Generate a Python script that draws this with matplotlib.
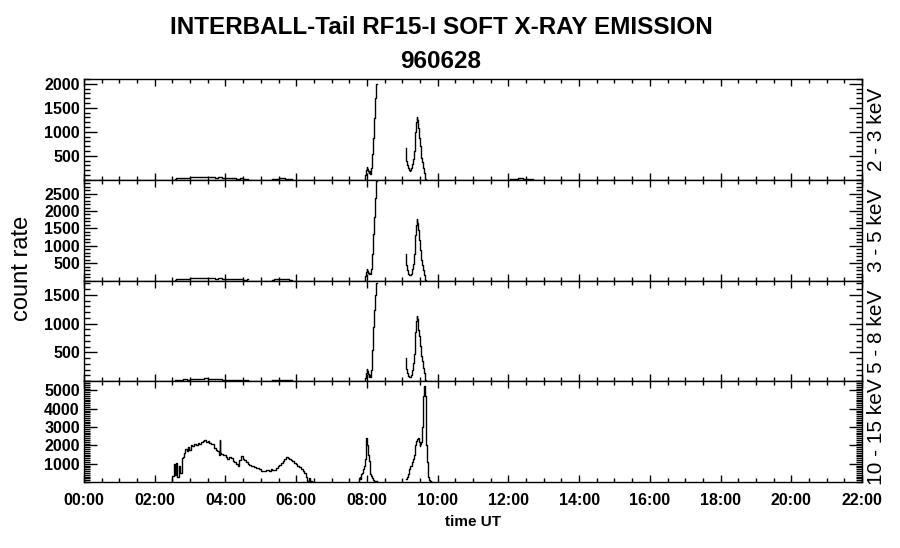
import numpy as np
import matplotlib.pyplot as plt
from matplotlib.ticker import MultipleLocator, FixedLocator, FuncFormatter

plt.rcParams['font.family'] = ['Liberation Sans', 'DejaVu Sans']

# energy bands and axis ranges
bands = ['2 - 3 keV', '3 - 5 keV', '5 - 8 keV', '10 - 15 keV']
ymax = [2100, 2900, 1750, 5500]
yticks = [[500, 1000, 1500, 2000],
          [500, 1000, 1500, 2000, 2500],
          [500, 1000, 1500],
          [1000, 2000, 3000, 4000, 5000]]
xticks = list(range(0, 23, 2))

# low background, bands 1-3 (hours UT)
t_bg_a = [2.57, 2.65, 2.75, 2.85, 2.95, 3.05, 3.15, 3.25, 3.35, 3.45, 3.55,
          3.65, 3.75, 3.85, 3.95, 4.05, 4.15, 4.25, 4.35, 4.45, 4.55, 4.65]
bg_a_1 = [20, 30, 35, 45, 40, 55, 50, 60, 55, 65, 50, 60, 45, 55, 40, 35, 30, 35, 25, 30, 20, 25]
bg_a_2 = [25, 35, 45, 55, 50, 65, 60, 70, 65, 75, 60, 70, 55, 60, 45, 40, 35, 40, 30, 35, 25, 30]
bg_a_3 = [15, 20, 25, 35, 30, 40, 35, 45, 40, 50, 38, 45, 35, 40, 30, 28, 22, 25, 20, 22, 15, 18]
t_bg_b = [5.31, 5.45, 5.6, 5.75, 5.87]
bg_b_1 = [20, 25, 30, 25, 20]
bg_b_2 = [25, 30, 35, 30, 25]
bg_b_3 = [15, 20, 25, 20, 15]
t_bg_c = [12.05, 12.2, 12.35, 12.5, 12.7]
bg_c_1 = [15, 25, 30, 25, 20]

# first peak, bands 1-3
t_p1 = [7.947, 7.96, 7.975, 7.99, 8.005, 8.022, 8.04, 8.06, 8.08, 8.098,
        8.115, 8.135, 8.15, 8.164, 8.182, 8.20, 8.211, 8.23, 8.248, 8.265, 8.277]
p1_1 = [0, 100, 150, 200, 270, 220, 180, 140, 180, 130,
        150, 250, 400, 530, 875, 1100, 1290, 1500, 1710, 1900, 2000]
p1_2 = [0, 120, 200, 250, 330, 280, 230, 190, 230, 180,
        200, 320, 550, 770, 1350, 1600, 1836, 2100, 2370, 2600, 2850]
p1_3 = [0, 60, 100, 150, 210, 170, 120, 70, 100, 80,
        100, 200, 350, 550, 950, 1100, 1240, 1380, 1500, 1600, 1700]

# second peak, bands 1-3
t_p2 = [9.097, 9.11, 9.125, 9.15, 9.172, 9.195, 9.219, 9.24, 9.266, 9.29,
        9.314, 9.34, 9.361, 9.375, 9.389, 9.403, 9.417, 9.427, 9.436, 9.445,
        9.455, 9.47, 9.483, 9.50, 9.512, 9.53, 9.549, 9.57, 9.597, 9.62,
        9.644, 9.66, 9.672]
p2_1 = [667, 550, 389, 300, 250, 200, 180, 200, 250, 320,
        424, 600, 805, 1000, 1150, 1200, 1305, 1250, 1200, 1100,
        1083, 950, 875, 800, 700, 550, 458, 380, 250, 150, 76, 20, 0]
p2_2 = [773, 600, 435, 300, 193, 160, 145, 160, 200, 330,
        483, 750, 1063, 1300, 1546, 1600, 1758, 1650, 1600, 1500,
        1450, 1300, 1160, 1050, 870, 700, 580, 450, 290, 170, 77, 20, 0]
p2_3 = [408, 300, 207, 150, 92, 80, 75, 80, 100, 200,
        322, 480, 667, 850, 1011, 1050, 1138, 1080, 1050, 950,
        897, 850, 782, 700, 609, 500, 437, 350, 235, 150, 63, 20, 0]

# band 4 (10 - 15 keV)
t_hump = [2.48, 2.52, 2.55, 2.58, 2.62, 2.66, 2.70, 2.74, 2.78, 2.81,
          2.85, 2.885, 2.92, 2.96, 3.00, 3.045, 3.09, 3.14, 3.19, 3.23,
          3.28, 3.33, 3.38, 3.42, 3.47, 3.52, 3.56, 3.61, 3.66, 3.705,
          3.75, 3.80, 3.83, 3.846, 3.86, 3.893, 3.94, 3.99, 4.03, 4.08,
          4.13, 4.18, 4.22, 4.27, 4.32, 4.365, 4.41, 4.46, 4.51, 4.55,
          4.60, 4.65, 4.70, 4.74, 4.79, 4.84, 4.88, 4.93, 4.98, 5.03,
          5.07, 5.12, 5.17, 5.21, 5.26, 5.31, 5.35, 5.40, 5.45, 5.50,
          5.54, 5.59, 5.64, 5.685, 5.73, 5.76, 5.79, 5.83, 5.87, 5.92,
          5.97, 6.01, 6.06, 6.11, 6.16, 6.20, 6.25, 6.30, 6.34, 6.38,
          6.42, 6.47]
hump = [0, 350, 980, 400, 1050, 300, 900, 500, 1300, 1350,
        1600, 1800, 1700, 1900, 1750, 2000, 1950, 2100, 2000, 2150,
        2100, 2200, 2250, 2280, 2200, 2230, 2150, 2050, 2100, 1850,
        1750, 1700, 1500, 2300, 1600, 1550, 1500, 1450, 1350, 1250,
        1350, 1300, 1150, 1100, 1000, 900, 1200, 1400, 1250, 1200,
        1100, 1000, 950, 900, 850, 800, 750, 780, 700, 620,
        580, 600, 650, 680, 620, 720, 680, 650, 750, 850,
        950, 1050, 1150, 1250, 1350, 1380, 1300, 1250, 1200, 1150,
        1050, 980, 900, 800, 700, 600, 500, 300, 50, 200,
        30, 0]
t_p1_4 = [7.758, 7.78, 7.805, 7.83, 7.852, 7.875, 7.899, 7.925, 7.946, 7.975,
          7.994, 8.01, 8.022, 8.04, 8.059, 8.088, 8.11, 8.135, 8.16, 8.182,
          8.22, 8.276]
p1_4 = [0, 200, 250, 150, 440, 500, 712, 900, 1260, 2080,
        2390, 2200, 2000, 1500, 1170, 700, 450, 350, 200, 100,
        80, 80]
t_p2_4 = [9.106, 9.14, 9.172, 9.20, 9.219, 9.24, 9.266, 9.29, 9.314, 9.34,
          9.361, 9.385, 9.408, 9.43, 9.455, 9.48, 9.502, 9.525, 9.549, 9.565,
          9.578, 9.597, 9.611, 9.625, 9.64, 9.653, 9.672, 9.69, 9.710, 9.738,
          9.767, 9.80, 9.832]
p2_4 = [150, 300, 450, 700, 800, 850, 900, 1100, 1260, 1500,
        1750, 2000, 2250, 2350, 2400, 2200, 1950, 2100, 2200, 2500,
        3000, 4700, 5000, 5250, 4900, 4700, 3000, 2000, 1100, 250,
        100, 50, 0]

segments = [
    [(t_bg_a, bg_a_1), (t_bg_b, bg_b_1), (t_bg_c, bg_c_1), (t_p1, p1_1), (t_p2, p2_1)],
    [(t_bg_a, bg_a_2), (t_bg_b, bg_b_2), (t_p1, p1_2), (t_p2, p2_2)],
    [(t_bg_a, bg_a_3), (t_bg_b, bg_b_3), (t_p1, p1_3), (t_p2, p2_3)],
    [(t_hump, hump), (t_p1_4, p1_4), (t_p2_4, p2_4)],
]

fig = plt.figure(figsize=(9, 5.48), dpi=100)
gs = fig.add_gridspec(4, 1, left=84/900, right=862/900,
                      top=1-79/548, bottom=1-482/548, hspace=0)

for i in range(4):
    ax = fig.add_subplot(gs[i])
    for t, c in segments[i]:
        ax.plot(t, c, color='black', lw=1.0, drawstyle='steps-mid')
    ax.set_xlim(0, 22)
    ax.set_ylim(0, ymax[i])
    ax.xaxis.set_major_locator(FixedLocator(xticks))
    ax.xaxis.set_minor_locator(MultipleLocator(0.5))
    ax.yaxis.set_major_locator(FixedLocator(yticks[i]))
    ax.yaxis.set_minor_locator(MultipleLocator(100))
    ax.tick_params(which='both', direction='in', top=True, right=True, width=1.0)
    ax.tick_params(axis='x', which='major', length=5)
    ax.tick_params(axis='x', which='minor', length=3)
    ax.tick_params(axis='y', which='major', length=9.5)
    ax.tick_params(axis='y', which='minor', length=4)
    ax.tick_params(labelsize=11.5, pad=3)
    for lab in ax.get_yticklabels():
        lab.set_fontweight('bold')
    for s in ax.spines.values():
        s.set_linewidth(1.0)
    if i < 3:
        ax.tick_params(axis='x', labelbottom=False)
    else:
        ax.xaxis.set_major_formatter(FuncFormatter(lambda v, p: '%02d:00' % v))
        for lab in ax.get_xticklabels():
            lab.set_fontweight('bold')
        ax.tick_params(axis='x', pad=8)
    ax.text(1.019, 0.5, bands[i], transform=ax.transAxes, rotation=90,
            ha='center', va='center', fontsize=15)

fig.text(0.49, 1-27/548, 'INTERBALL-Tail RF15-I SOFT X-RAY EMISSION',
         ha='center', va='center', fontsize=17.5, fontweight='bold')
fig.text(0.49, 1-61/548, '960628', ha='center', va='center',
         fontsize=17.5, fontweight='bold')
fig.text(22/900, 1-268/548, 'count rate', rotation=90, ha='center',
         va='center', fontsize=17)
fig.text(473/900, 1-522/548, 'time UT', ha='center', va='center',
         fontsize=11, fontweight='bold')

fig.savefig('out.png', dpi=100)
